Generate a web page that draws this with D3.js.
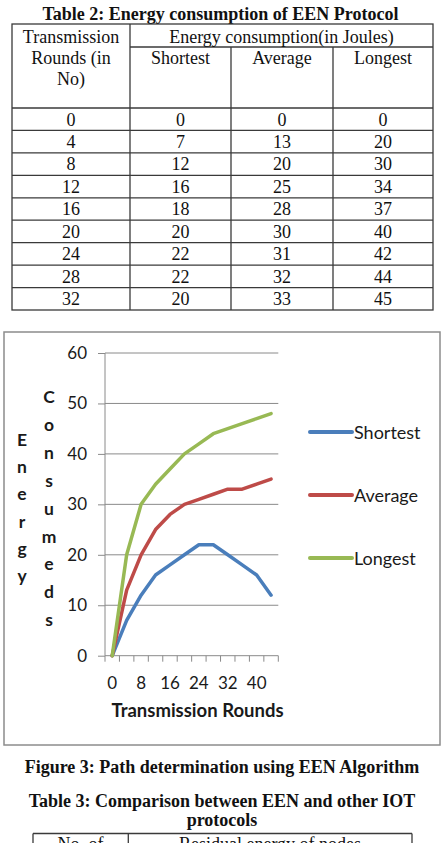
<!DOCTYPE html>
<html lang="en">
<head>
<meta charset="UTF-8">
<title>EEN energy consumption</title>
<script src="https://cdn.jsdelivr.net/npm/d3@7"></script>
<style>
    html, body { margin:0; padding:0; background:#fff; overflow:hidden; }
    .tbl text { font-family:"Liberation Serif","Times New Roman",serif; font-size:18px; fill:#111; }
    .tbl .bold { font-weight:bold; }
    .tbl line, .tbl rect { stroke:#3a3a3a; stroke-width:1.3; fill:none; }
    .chart text { font-family:Lato,"Open Sans",sans-serif; fill:#1a1a1a; }
    .chart .frame { fill:#fff; stroke:#8c8c8c; stroke-width:1.5; }
    .chart .grid line { stroke:#8a8a8a; stroke-width:1; }
    .axis path { display:none; }
    .axis line { stroke:#8a8a8a; }
    .axis text { font-size:17px; }
    .series { fill:none; stroke-width:3.5; stroke-linejoin:round; stroke-linecap:round; }
</style>
</head>
<body>
<div class="app"></div>
<script>
    // table 2 values
    var tableRounds   = ['0','4','8','12','16','20','24','28','32'];
    var tableShortest = ['0','7','12','16','18','20','22','22','20'];
    var tableAverage  = ['0','13','20','25','28','30','31','32','33'];
    var tableLongest  = ['0','20','30','34','37','40','42','44','45'];

    // chart values (figure 3)
    var rounds   = [0,4,8,12,16,20,24,28,32,36,40,44];
    var shortest = [0,7,12,16,18,20,22,22,20,18,16,12];
    var average  = [0,13,20,25,28,30,31,32,33,33,34,35];
    var longest  = [0,20,30,34,37,40,42,44,45,46,47,48];
    var yTicks = [0,10,20,30,40,50,60];
    var xTickLabels = [0,8,16,24,32,40];
    var seriesNames = ['Shortest','Average','Longest'];
    var colors = ['#4a7ebb','#be4b48','#98b954'];

    var width = 441, height = 843;
    var svg = d3.select('.app').append('svg')
        .attr('width',width).attr('height',height);

    /*********** table 2 ***********/
    var t = svg.append('g').attr('class','tbl');
    var cols = [12,130,231,333,433];
    var tTop = 24, subLine = 47, headBottom = 108, tBottom = 310;
    var row = d3.scaleBand().domain(d3.range(tableRounds.length)).range([headBottom,tBottom]);
    var colMid = function(i){ return (cols[i]+cols[i+1])/2; };

    t.append('text').attr('class','bold').attr('x',width/2).attr('y',20)
        .attr('text-anchor','middle').text('Table 2: Energy consumption of EEN Protocol');

    t.append('rect').attr('x',cols[0]).attr('y',tTop)
        .attr('width',cols[4]-cols[0]).attr('height',tBottom-tTop);
    t.append('line').attr('x1',cols[1]).attr('x2',cols[1]).attr('y1',tTop).attr('y2',tBottom);
    [2,3].forEach(function(i){
        t.append('line').attr('x1',cols[i]).attr('x2',cols[i]).attr('y1',subLine).attr('y2',tBottom);
    });
    t.append('line').attr('x1',cols[1]).attr('x2',cols[4]).attr('y1',subLine).attr('y2',subLine);
    t.selectAll('.rowline').data(d3.range(tableRounds.length)).enter().append('line')
        .attr('x1',cols[0]).attr('x2',cols[4])
        .attr('y1',function(d){return row(d);}).attr('y2',function(d){return row(d);});

    ['Transmission','Rounds (in','No)'].forEach(function(s,i){
        t.append('text').attr('x',colMid(0)).attr('y',42.5+i*21.3).attr('text-anchor','middle').text(s);
    });
    t.append('text').attr('x',(cols[1]+cols[4])/2).attr('y',42.5).attr('text-anchor','middle')
        .text('Energy consumption(in Joules)');
    seriesNames.forEach(function(s,i){
        t.append('text').attr('x',colMid(i+1)).attr('y',63.8).attr('text-anchor','middle').text(s);
    });

    [tableRounds,tableShortest,tableAverage,tableLongest].forEach(function(arr,c){
        t.selectAll('.c'+c).data(arr).enter().append('text')
            .attr('x',colMid(c))
            .attr('y',function(d,i){return row(i)+row.bandwidth()/2+6.3;})
            .attr('text-anchor','middle')
            .text(function(d){return d;});
    });

    /*********** chart ***********/
    var g = svg.append('g').attr('class','chart');
    g.append('rect').attr('class','frame').attr('x',4).attr('y',332).attr('width',436).attr('height',413);

    var x = d3.scaleBand().domain(rounds).range([105,278.3]);
    var y = d3.scaleLinear().domain([0,60]).range([655.7,353]);

    g.append('g').attr('class','grid').selectAll('line').data(yTicks).enter().append('line')
        .attr('x1',x.range()[0]).attr('x2',x.range()[1])
        .attr('y1',function(d){return y(d);}).attr('y2',function(d){return y(d);});

    g.append('g').attr('class','axis')
        .attr('transform','translate('+x.range()[0]+',0)')
        .call(d3.axisLeft(y).tickValues(yTicks).tickSize(7).tickPadding(11));

    g.append('line').attr('x1',105).attr('x2',105).attr('y1',y(0)).attr('y2',y(60))
        .attr('stroke','#8a8a8a');

    // tick marks on category boundaries
    var bounds = rounds.map(function(d){return x(d);}).concat([x.range()[1]]);
    g.append('g').selectAll('line').data(bounds).enter().append('line')
        .attr('x1',function(d){return d;}).attr('x2',function(d){return d;})
        .attr('y1',y(0)).attr('y2',y(0)+6).attr('stroke','#8a8a8a');

    g.append('g').attr('class','axis')
        .attr('transform','translate(0,'+y(0)+')')
        .call(d3.axisBottom(x).tickValues(xTickLabels).tickSize(0).tickPadding(21));

    var line = d3.line()
        .x(function(d,i){return x(rounds[i]) + x.bandwidth()/2;})
        .y(function(d){return y(d);});

    [shortest,average,longest].forEach(function(s,i){
        g.append('path').attr('class','series').attr('stroke',colors[i]).attr('d',line(s));
    });

    // legend
    var legendY = [432,495,558];
    seriesNames.forEach(function(s,i){
        g.append('line').attr('x1',310).attr('x2',352).attr('y1',legendY[i]).attr('y2',legendY[i])
            .attr('stroke',colors[i]).attr('stroke-width',4).attr('stroke-linecap','round');
        g.append('text').attr('x',354).attr('y',legendY[i]+6.5).attr('font-size',18).text(s);
    });

    // titles
    g.append('text').attr('x',197.5).attr('y',717).attr('text-anchor','middle')
        .attr('font-size',18.5).attr('font-weight','bold').text('Transmission Rounds');

    'Energy'.split('').forEach(function(ch,i){
        g.append('text').attr('x',22).attr('y',446+i*27.2).attr('text-anchor','middle')
            .attr('font-size',17.5).attr('font-weight','bold').text(ch);
    });
    'Consumeds'.split('').forEach(function(ch,i){
        g.append('text').attr('x',49).attr('y',403+i*27.9).attr('text-anchor','middle')
            .attr('font-size',17.5).attr('font-weight','bold').text(ch);
    });

    /*********** captions / table 3 ***********/
    var c = svg.append('g').attr('class','tbl');
    c.append('text').attr('class','bold').attr('x',222).attr('y',773).attr('text-anchor','middle')
        .text('Figure 3: Path determination using EEN Algorithm');
    c.append('text').attr('class','bold').attr('x',222).attr('y',807).attr('text-anchor','middle')
        .text('Table 3: Comparison between EEN and other IOT');
    c.append('text').attr('class','bold').attr('x',222).attr('y',826).attr('text-anchor','middle')
        .text('protocols');
    c.append('line').attr('x1',33).attr('x2',412).attr('y1',833.5).attr('y2',833.5);
    [33,128.3,412].forEach(function(xx){
        c.append('line').attr('x1',xx).attr('x2',xx).attr('y1',833.5).attr('y2',860);
    });
    c.append('text').attr('x',80.5).attr('y',850).attr('text-anchor','middle').text('No. of');
    c.append('text').attr('x',270).attr('y',850).attr('text-anchor','middle').text('Residual energy of nodes');
</script>
</body>
</html>
